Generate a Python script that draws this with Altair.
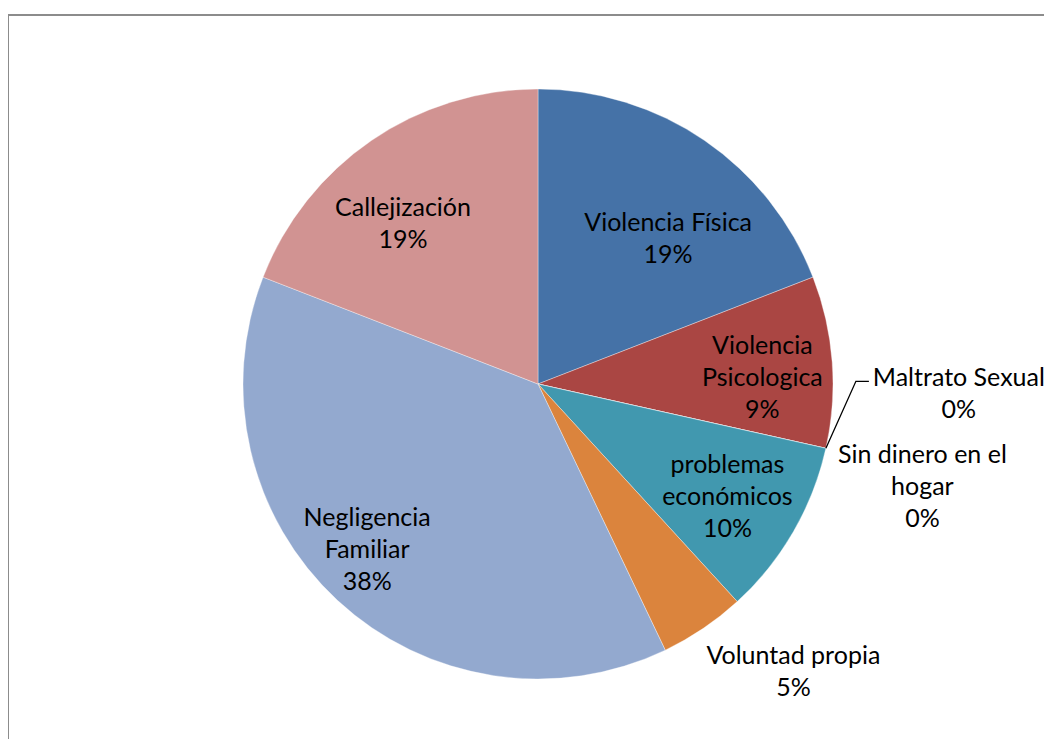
import math
import altair as alt
import pandas as pd

categories = ["Violencia Física", "Violencia Psicologica", "Maltrato Sexual",
              "Sin dinero en el hogar", "problemas económicos", "Voluntad propia",
              "Negligencia Familiar", "Callejización"]
label_lines = ["Violencia Física", "Violencia\nPsicologica", "Maltrato Sexual",
               "Sin dinero en el\nhogar", "problemas\neconómicos", "Voluntad propia",
               "Negligencia\nFamiliar", "Callejización"]
values = [19.1, 9.4, 0.0, 0.0, 9.7, 4.7, 38.0, 19.1]
colors = ["#4572A7", "#AA4643", "#89A54E", "#71588F", "#4198AF", "#DB843D",
          "#93A9CF", "#D19392"]

total = sum(values)
labels = [f"{l}\n{round(v / total * 100):.0f}%" for l, v in zip(label_lines, values)]
df = pd.DataFrame({
    "idx": list(range(len(categories))),
    "cat": categories,
    "value": values,
    "label": labels,
})

W, H = 1036, 724
CX, CY, R = 530, 369, 295
FONT = "Lato"
FS = 25
LH = 32

theta_scale = alt.Scale(domain=[0, total])

base = alt.Chart(df)

pie = base.mark_arc(outerRadius=R, stroke="white", strokeWidth=0.5, strokeOpacity=0.7).encode(
    theta=alt.Theta("value:Q", stack=True, scale=theta_scale),
    color=alt.Color("cat:N", scale=alt.Scale(domain=categories, range=colors), legend=None),
    order=alt.Order("idx:Q"),
    x=alt.value(CX), y=alt.value(CY),
)

# label layout: radius and nudges (styling)
layout = {
    "Violencia Física": (195, 20, 16),
    "Violencia Psicologica": (224, 1, 11),
    "Maltrato Sexual": (421, 10, -82),
    "Sin dinero en el hogar": (398, -4, 16),
    "problemas económicos": (220, -1, 3),
    "Voluntad propia": (385, 40, -31),
    "Negligencia Familiar": (238, -9, -9),
    "Callejización": (209, -17, 12),
}

stacked = base.transform_window(
    cum="sum(value)", sort=[{"field": "idx"}], frame=[None, 0]
).transform_calculate(mid="datum.cum - datum.value / 2")

text_layers = []
for cat, lab in zip(categories, labels):
    r, dx, dy = layout[cat]
    n = lab.count("\n") + 1
    dy = dy - (n - 1) * LH / 2  # centre the block of lines
    text_layers.append(
        stacked.transform_filter(alt.datum.cat == cat).mark_text(
            radius=r, dx=dx, dy=dy, font=FONT, fontSize=FS, lineHeight=LH,
            lineBreak="\n", align="center", baseline="middle", color="black",
        ).encode(
            theta=alt.Theta("mid:Q", scale=theta_scale, stack=None),
            text="label:N",
            x=alt.value(CX), y=alt.value(CY),
        )
    )

# leader line for the zero slice "Maltrato Sexual"
cum_before = sum(values[:2])
ang = cum_before / total * 2 * math.pi
sx, sy = CX + R * math.sin(ang), CY - R * math.cos(ang)
leader = pd.DataFrame({
    "px": [sx, sx + 30, sx + 43],
    "py": [sy, sy - 67, sy - 67],
    "o": [0, 1, 2],
})
leader_line = alt.Chart(leader).mark_line(color="black", strokeWidth=1.3).encode(
    x=alt.X("px:Q", scale=None, axis=None),
    y=alt.Y("py:Q", scale=None, axis=None),
    order="o:Q",
)

border_top = alt.Chart(df).mark_rule(color="#8c8c8c", strokeWidth=2).encode(
    x=alt.value(0), x2=alt.value(W), y=alt.value(0)
)
border_left = alt.Chart(df).mark_rule(color="#8c8c8c", strokeWidth=2).encode(
    x=alt.value(0), y=alt.value(0), y2=alt.value(H)
)

chart = alt.layer(pie, *text_layers, leader_line, border_top, border_left).properties(
    width=W, height=H,
    padding={"left": 0, "top": 7, "right": 0, "bottom": 0},
    autosize=alt.AutoSizeParams(type="none"),
    background="white",
).configure_view(stroke=None)

chart.save("out.html", embed_options={"renderer": "svg", "actions": False})
